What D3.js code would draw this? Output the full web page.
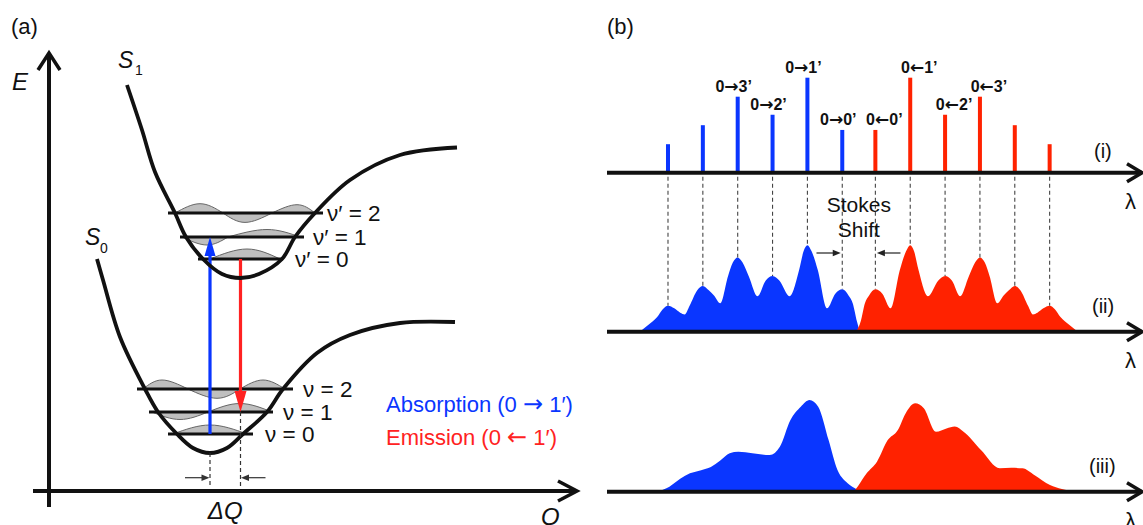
<!DOCTYPE html>
<html>
<head>
<meta charset="utf-8">
<script src="https://cdn.jsdelivr.net/npm/d3@7"></script>
<style>
  html, body { margin: 0; padding: 0; background: #fff; }
  svg { display: block; }
</style>
</head>
<body>
<svg id="fig" width="1143" height="525"></svg>
<script>
// ===== Panel (a): configuration-coordinate diagram (Q, E in arbitrary units) =====
const groundCurve = [[4.8,23.2],[5.4,21.1],[7.1,15.4],[9.6,10.2],[10.9,7.9],[12.8,5.7],[14.4,4.3],[16.1,3.8],
  [17.8,4.3],[19.4,5.7],[21.8,7.9],[23.4,10.2],[26.8,13.8],[30.1,15.6],[35.1,16.8],[40.6,16.9]];
const excitedCurve = [[7.8,40.6],[9.3,36.1],[10.6,31.9],[12.6,27.8],[13.7,25.4],[15.4,23.2],[17.3,21.7],[19.15,21.3],
  [21.0,21.7],[23.3,23.2],[24.6,25.4],[26.6,27.8],[30.1,31.1],[35.1,33.6],[40.8,34.35]];

const groundLevelE = [5.7, 7.9, 10.2];
const groundLevelSpan = [[11.9,20.4],[10.0,22.4],[8.8,24.4]];
const groundLevelLabels = ["ν = 0", "ν = 1", "ν = 2"];
const excitedLevelE = [23.2, 25.4, 27.8];
const excitedLevelSpan = [[14.9,23.4],[13.1,25.5],[11.9,27.4]];
const excitedLevelLabels = ["ν′ = 0", "ν′ = 1", "ν′ = 2"];

// vibrational wavefunction lobes: [Q start, Q extremum, Q end, amplitude]
const groundWaves = [
  [[12.4,16.1,19.8,0.9]],
  [[10.3,13.1,15.9,-0.75],[15.9,19.1,22.3,0.85]],
  [[9.4,11.3,13.9,0.9],[13.9,16.8,19.1,-0.93],[19.1,21.4,23.6,0.9]]
];
const excitedWaves = [
  [[16.1,19.8,23.1,1.0]],
  [[13.3,15.8,17.9,-0.8],[17.9,21.8,25.1,0.75]],
  [[12.6,15.1,17.4,0.93],[17.4,19.6,22.3,-0.94],[22.3,24.8,26.6,0.83]]
];
const qGroundMin = 16.1, qExcitedMin = 19.15;

// ===== Panel (b): spectra along wavelength =====
const absLambda = [1, 2, 3, 4, 5, 6];
const absStick  = [0.30, 0.50, 0.80, 0.61, 1.00, 0.45];
const absLabels = ["", "", "0→3’", "0→2’", "0→1’", "0→0’"];
const emLambda  = [6.95, 7.95, 8.95, 9.95, 10.95, 11.95];
const emStick   = [0.45, 1.00, 0.61, 0.80, 0.50, 0.30];
const emLabels  = ["0←0’", "0←1’", "0←2’", "0←3’", "", ""];

const absBands = [[0.19,0.00],[0.44,0.08],[0.69,0.17],[0.85,0.26],[1.00,0.30],[1.18,0.27],[1.35,0.22],[1.48,0.20],
  [1.62,0.30],[1.84,0.48],[2.00,0.53],[2.17,0.48],[2.32,0.42],[2.50,0.33],[2.72,0.64],[2.86,0.80],[3.00,0.86],
  [3.14,0.80],[3.32,0.64],[3.57,0.41],[3.80,0.59],[4.00,0.645],[4.20,0.59],[4.49,0.41],[4.76,0.71],[4.89,0.93],
  [5.00,1.00],[5.12,0.93],[5.30,0.71],[5.56,0.27],[5.80,0.44],[6.00,0.49],[6.18,0.42],[6.30,0.33],[6.42,0.12],[6.50,0.00]];
const emBands = [[6.40,0.00],[6.53,0.12],[6.65,0.33],[6.77,0.42],[6.95,0.49],[7.15,0.44],[7.39,0.27],[7.65,0.71],
  [7.83,0.93],[7.95,1.00],[8.06,0.93],[8.19,0.71],[8.46,0.41],[8.75,0.59],[8.95,0.645],[9.15,0.59],[9.38,0.41],
  [9.63,0.64],[9.81,0.80],[9.95,0.86],[10.09,0.80],[10.23,0.64],[10.45,0.33],[10.63,0.42],[10.78,0.48],[10.95,0.53],
  [11.11,0.48],[11.33,0.30],[11.47,0.20],[11.60,0.22],[11.77,0.27],[11.95,0.30],[12.10,0.26],[12.26,0.17],
  [12.51,0.08],[12.76,0.00]];

const absBroad = [[0.70,0.00],[1.04,0.055],[1.35,0.14],[1.63,0.20],[1.95,0.235],[2.23,0.27],[2.50,0.34],[2.77,0.42],
  [3.02,0.436],[3.42,0.42],[3.92,0.40],[4.21,0.49],[4.51,0.78],[4.81,0.927],[5.06,1.00],[5.31,0.927],[5.61,0.56],
  [5.86,0.24],[6.10,0.11],[6.35,0.04],[6.60,0.00]];
const emBroad = [[6.33,0.00],[6.45,0.06],[6.70,0.20],[7.00,0.33],[7.30,0.56],[7.59,0.67],[7.84,0.87],[8.09,0.964],
  [8.34,0.91],[8.69,0.654],[8.99,0.69],[9.23,0.71],[9.48,0.654],[9.98,0.455],[10.52,0.255],[10.85,0.26],
  [11.17,0.255],[11.52,0.18],[11.96,0.073],[12.30,0.03],[12.80,0.00]];

// ===== drawing =====
const FONT = '"Liberation Sans", Arial, Helvetica, sans-serif';
const ARROW_FONT = '"DejaVu Sans", sans-serif';
const BLUE = "#0a36ff", RED = "#ff2200", RED_TEXT = "#ff2222", INK = "#111";
const svg = d3.select("#fig");

function tri(g, x, y, dx, dy, len, half, fill) {
  const bx = x - dx * len, by = y - dy * len, px = -dy * half, py = dx * half;
  g.append("path").attr("d", `M${x},${y}L${bx + px},${by + py}L${bx - px},${by - py}Z`).attr("fill", fill);
}
function chevron(g, x, y, dx, dy, len, half) {
  const bx = x - dx * len, by = y - dy * len, px = -dy * half, py = dx * half;
  g.append("path").attr("d", `M${bx + px},${by + py}L${x},${y}L${bx - px},${by - py}`)
    .attr("fill", "none").attr("stroke", INK).attr("stroke-width", 3.5);
}
// writes a string, rendering arrow characters with a font that has long arrows
function fillText(t, s, arrowScale) {
  const parts = s.split(/([→←])/);
  parts.forEach(p => {
    if (!p) return;
    const ts = t.append("tspan").text(p);
    if (p === "→" || p === "←") ts.attr("font-family", ARROW_FONT).attr("font-size", arrowScale);
  });
  return t;
}
function txt(g, x, y, s, size, opts = {}) {
  const t = g.append("text").attr("x", x).attr("y", y)
    .attr("font-family", FONT).attr("font-size", size)
    .attr("font-style", opts.italic ? "italic" : "normal")
    .attr("font-weight", opts.bold ? "bold" : "normal")
    .attr("text-anchor", opts.anchor || "start")
    .attr("fill", opts.fill || INK);
  return fillText(t, s, opts.arrowSize || size);
}

// ---------- Panel (a) ----------
const xQ = d3.scaleLinear().domain([0, 52.8]).range([49, 577]);
const yE = d3.scaleLinear().domain([0, 43.8]).range([491, 53]);
const ga = svg.append("g");

// wavefunctions
function drawWaves(levelE, waves) {
  waves.forEach((lobes, i) => {
    const e0 = levelE[i];
    lobes.forEach(([q0, qp, q1, amp]) => {
      const pts = [[q0, 0], [qp, amp], [q1, 0]];
      const area = d3.area().curve(d3.curveNatural)
        .x(d => xQ(d[0])).y0(yE(e0)).y1(d => yE(e0 + d[1]));
      ga.append("path").attr("d", area(pts))
        .attr("fill", "#bfbfbf").attr("stroke", "#666").attr("stroke-width", 1);
    });
  });
}
drawWaves(groundLevelE, groundWaves);
drawWaves(excitedLevelE, excitedWaves);

// vibrational levels
function drawLevels(levelE, spans, labels, gaps) {
  levelE.forEach((e, i) => {
    ga.append("line").attr("x1", xQ(spans[i][0])).attr("x2", xQ(spans[i][1]))
      .attr("y1", yE(e)).attr("y2", yE(e)).attr("stroke", INK).attr("stroke-width", 3);
    txt(ga, xQ(spans[i][1]) + gaps[i], yE(e) + 8, labels[i], 22.5);
  });
}
drawLevels(groundLevelE, groundLevelSpan, groundLevelLabels, [12, 10, 10]);
drawLevels(excitedLevelE, excitedLevelSpan, excitedLevelLabels, [12, 9, 4]);

// absorption and emission arrows
{
  const xa = xQ(qGroundMin), ya0 = yE(groundLevelE[0]), ya1 = yE(excitedLevelE[1]);
  ga.append("line").attr("x1", xa).attr("x2", xa).attr("y1", ya0).attr("y2", ya1 + 15)
    .attr("stroke", BLUE).attr("stroke-width", 3.2);
  tri(ga, xa, ya1, 0, -1, 19, 5.5, BLUE);
  const xe = xQ(qExcitedMin), ye0 = yE(excitedLevelE[0]), ye1 = yE(groundLevelE[1]);
  ga.append("line").attr("x1", xe).attr("x2", xe).attr("y1", ye0).attr("y2", ye1 - 16)
    .attr("stroke", RED_TEXT).attr("stroke-width", 3.2);
  tri(ga, xe, ye1, 0, 1, 21, 6, RED_TEXT);
}

// potential curves
const potLine = d3.line().curve(d3.curveCatmullRom.alpha(0.5)).x(d => xQ(d[0])).y(d => yE(d[1]));
ga.append("path").attr("d", potLine(groundCurve)).attr("fill", "none").attr("stroke", INK).attr("stroke-width", 3.8);
ga.append("path").attr("d", potLine(excitedCurve)).attr("fill", "none").attr("stroke", INK).attr("stroke-width", 3.8);

// displacement markers
{
  const yArr = yE(1.33), yBot = yE(0.4);
  [[qGroundMin, 3.8], [qExcitedMin, groundLevelE[1]]].forEach(([q, e]) => {
    ga.append("line").attr("x1", xQ(q)).attr("x2", xQ(q)).attr("y1", yE(e)).attr("y2", yBot)
      .attr("stroke", "#333").attr("stroke-width", 1.2).attr("stroke-dasharray", "4,3");
  });
  ga.append("line").attr("x1", xQ(qGroundMin - 2.5)).attr("x2", xQ(qGroundMin) - 6)
    .attr("y1", yArr).attr("y2", yArr).attr("stroke", "#333").attr("stroke-width", 1.2);
  tri(ga, xQ(qGroundMin) - 0.5, yArr, 1, 0, 8, 3.2, "#333");
  ga.append("line").attr("x1", xQ(qExcitedMin + 2.5)).attr("x2", xQ(qExcitedMin) + 6)
    .attr("y1", yArr).attr("y2", yArr).attr("stroke", "#333").attr("stroke-width", 1.2);
  tri(ga, xQ(qExcitedMin) + 0.5, yArr, -1, 0, 8, 3.2, "#333");
  txt(ga, (xQ(qGroundMin) + xQ(qExcitedMin)) / 2, 519, "ΔQ", 24, { italic: true, anchor: "middle" });
}

// axes of panel (a)
ga.append("line").attr("x1", xQ(0)).attr("x2", xQ(0)).attr("y1", 507).attr("y2", yE(43.8))
  .attr("stroke", INK).attr("stroke-width", 4);
chevron(ga, xQ(0), yE(43.8), 0, -1, 17, 11);
ga.append("line").attr("x1", 33).attr("x2", xQ(52.8)).attr("y1", yE(0)).attr("y2", yE(0))
  .attr("stroke", INK).attr("stroke-width", 4);
chevron(ga, xQ(52.8), yE(0), 1, 0, 19, 10);

txt(ga, 11, 33.5, "(a)", 22);
txt(ga, 12, 90, "E", 24, { italic: true });
txt(ga, 541, 525, "Q", 24, { italic: true });
txt(ga, 118, 68, "S", 23, { italic: true });
txt(ga, 135, 75, "1", 14);
txt(ga, 85, 245, "S", 23, { italic: true });
txt(ga, 100, 253, "0", 14);
txt(ga, 386, 412, "Absorption (0 → 1′)", 22, { fill: BLUE, arrowSize: 24 });
txt(ga, 386, 445, "Emission (0 ← 1′)", 22, { fill: RED_TEXT, arrowSize: 24 });

// ---------- Panel (b) ----------
const gb = svg.append("g");
const xL = d3.scaleLinear().domain([-0.75, 14.6]).range([607, 1142]);
const yI   = d3.scaleLinear().domain([0, 1]).range([172.7, 77.7]);
const yII  = d3.scaleLinear().domain([0, 1]).range([331.7, 245.3]);
const yIII = d3.scaleLinear().domain([0, 1]).range([491.7, 400]);

const bandArea = ys => d3.area().curve(d3.curveMonotoneX)
  .x(d => xL(d[0])).y0(ys(0)).y1(d => ys(d[1]));

// (ii) vibronic bands and (iii) broadened spectra
gb.append("path").attr("d", bandArea(yII)(absBands)).attr("fill", BLUE);
gb.append("path").attr("d", bandArea(yII)(emBands)).attr("fill", RED);
gb.append("path").attr("d", bandArea(yIII)(absBroad)).attr("fill", BLUE);
gb.append("path").attr("d", bandArea(yIII)(emBroad)).attr("fill", RED);

// (i) stick spectrum
const sticks = absLambda.map((l, i) => ({ l, v: absStick[i], c: BLUE, lab: absLabels[i], dx: -4 }))
  .concat(emLambda.map((l, i) => ({ l, v: emStick[i], c: RED, lab: emLabels[i], dx: 9 })));
gb.selectAll("rect.stick").data(sticks).join("rect").attr("class", "stick")
  .attr("x", d => xL(d.l) - 2).attr("width", 4)
  .attr("y", d => yI(d.v)).attr("height", d => yI(0) - yI(d.v)).attr("fill", d => d.c);
sticks.filter(d => d.lab).forEach(d => {
  txt(gb, xL(d.l) + d.dx, yI(d.v) - 5, d.lab, 16, { bold: true, anchor: "middle", arrowSize: 17 });
});

// dashed guides from sticks to band maxima
function peakAt(bands, l) {
  return bands.reduce((best, p) => Math.abs(p[0] - l) < Math.abs(best[0] - l) ? p : best)[1];
}
sticks.forEach(d => {
  const v = peakAt(d.c === BLUE ? absBands : emBands, d.l);
  gb.append("line").attr("x1", xL(d.l)).attr("x2", xL(d.l)).attr("y1", yI(0) + 4).attr("y2", yII(v))
    .attr("stroke", "#444").attr("stroke-width", 1.1).attr("stroke-dasharray", "4,3");
});

// Stokes shift annotation
{
  const yS = 253;
  const l0 = absLambda[absLambda.length - 1], l1 = emLambda[0];
  gb.append("line").attr("x1", xL(l0 - 0.74)).attr("x2", xL(l0) - 8).attr("y1", yS).attr("y2", yS)
    .attr("stroke", "#222").attr("stroke-width", 1.2);
  tri(gb, xL(l0) - 1.5, yS, 1, 0, 8, 3.2, "#222");
  gb.append("line").attr("x1", xL(l1 + 0.72)).attr("x2", xL(l1) + 8).attr("y1", yS).attr("y2", yS)
    .attr("stroke", "#222").attr("stroke-width", 1.2);
  tri(gb, xL(l1) + 1.5, yS, -1, 0, 8, 3.2, "#222");
  const xc = (xL(l0) + xL(l1)) / 2;
  txt(gb, xc, 211.5, "Stokes", 21, { anchor: "middle" });
  txt(gb, xc, 236.5, "Shift", 21, { anchor: "middle" });
}

// wavelength axes
[[yI(0), "(i)", 157.5, 1094], [yII(0), "(ii)", 312.5, 1092], [yIII(0), "(iii)", 472.5, 1089]].forEach(([y, lab, ly, lx]) => {
  gb.append("line").attr("x1", xL(-0.75)).attr("x2", xL(14.6)).attr("y1", y).attr("y2", y)
    .attr("stroke", INK).attr("stroke-width", 4);
  chevron(gb, xL(14.6), y, 1, 0, 15, 9);
  txt(gb, lx, ly, lab, 20);
  txt(gb, 1125, y + 36, "λ", 22);
});

txt(gb, 607, 33.5, "(b)", 22);
</script>
</body>
</html>
